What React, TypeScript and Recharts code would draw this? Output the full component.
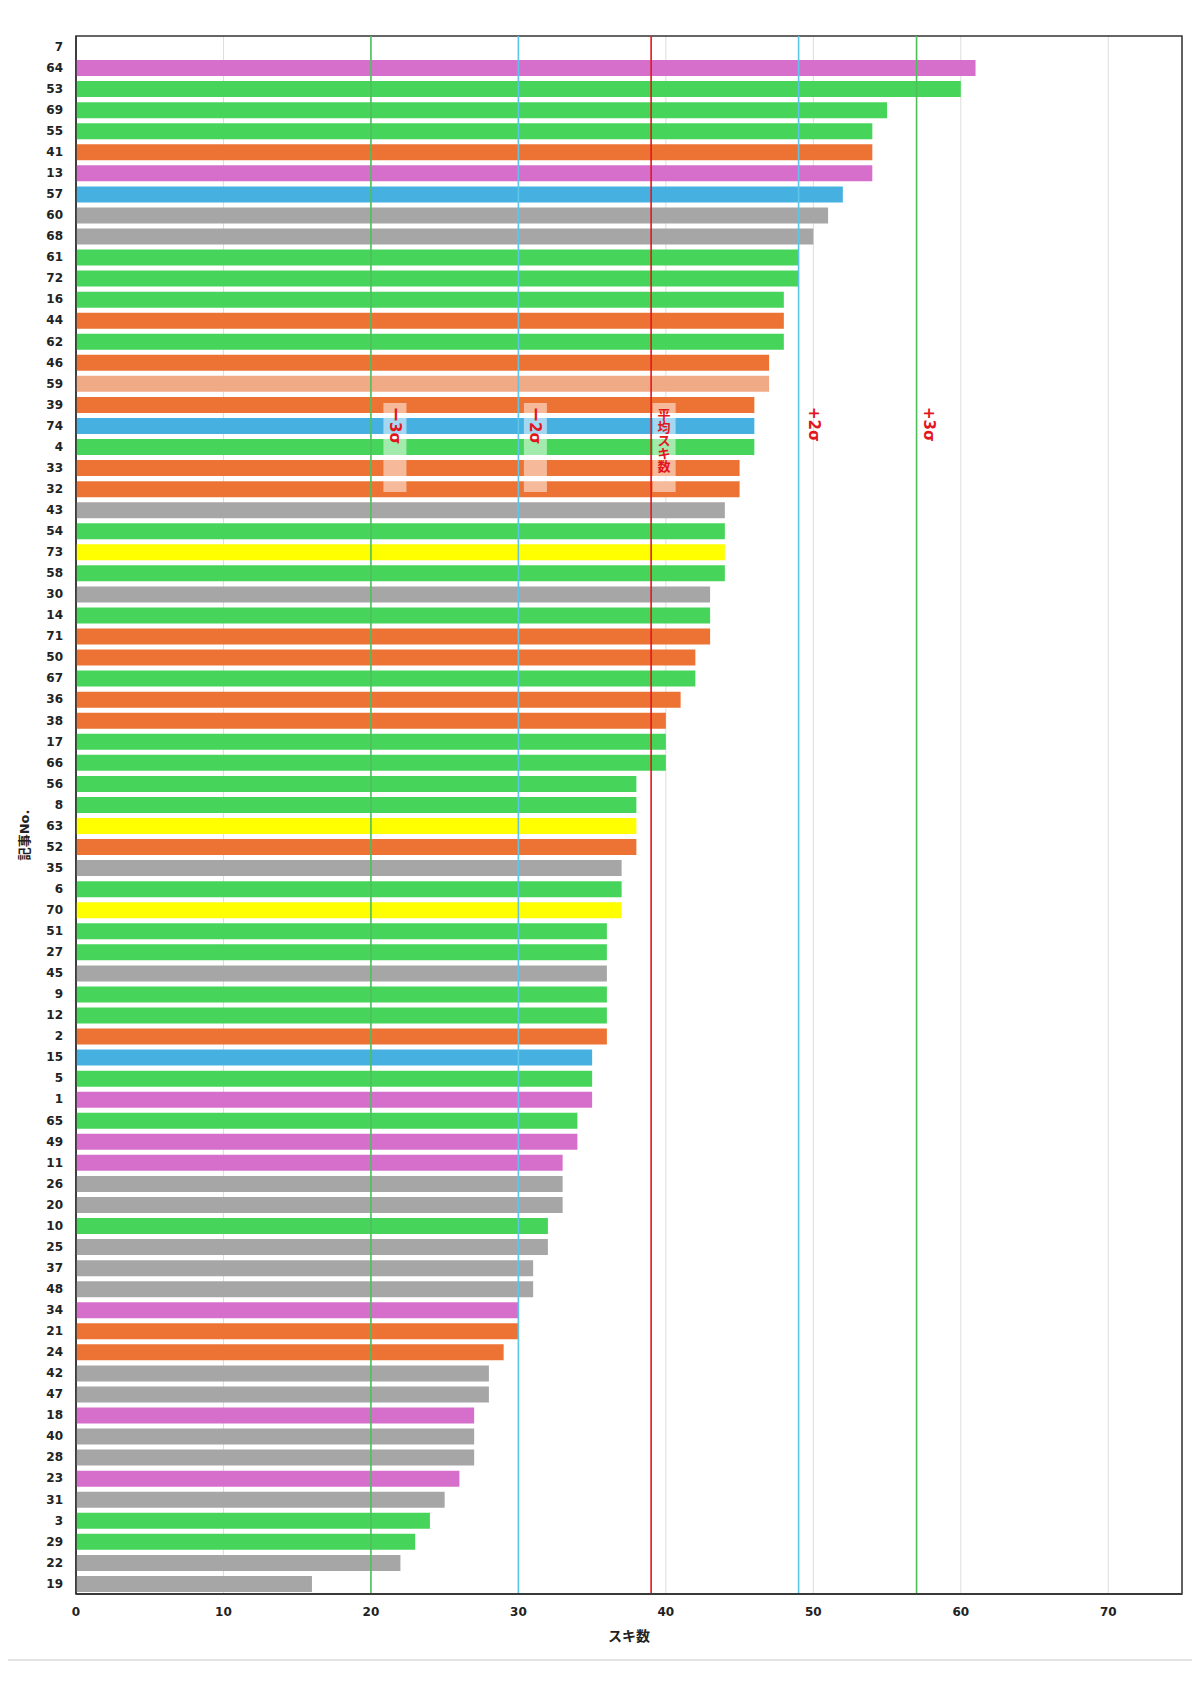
import { Bar, BarChart, CartesianGrid, Cell, ReferenceArea, ReferenceLine, XAxis, YAxis } from 'recharts';

const articleNos = [
  '7', '64', '53', '69', '55', '41', '13', '57', '60', '68',
  '61', '72', '16', '44', '62', '46', '59', '39', '74', '4',
  '33', '32', '43', '54', '73', '58', '30', '14', '71', '50',
  '67', '36', '38', '17', '66', '56', '8', '63', '52', '35',
  '6', '70', '51', '27', '45', '9', '12', '2', '15', '5',
  '1', '65', '49', '11', '26', '20', '10', '25', '37', '48',
  '34', '21', '24', '42', '47', '18', '40', '28', '23', '31',
  '3', '29', '22', '19',
];

const sukiCounts = [
  0, 61, 60, 55, 54, 54, 54, 52, 51, 50,
  49, 49, 48, 48, 48, 47, 47, 46, 46, 46,
  45, 45, 44, 44, 44, 44, 43, 43, 43, 42,
  42, 41, 40, 40, 40, 38, 38, 38, 38, 37,
  37, 37, 36, 36, 36, 36, 36, 36, 35, 35,
  35, 34, 34, 33, 33, 33, 32, 32, 31, 31,
  30, 30, 29, 28, 28, 27, 27, 27, 26, 25,
  24, 23, 22, 16,
];

const barGroups = [
  'gray', 'pink', 'green', 'green', 'green', 'orange', 'pink', 'blue', 'gray', 'gray',
  'green', 'green', 'green', 'orange', 'green', 'orange', 'salmon', 'orange', 'blue', 'green',
  'orange', 'orange', 'gray', 'green', 'yellow', 'green', 'gray', 'green', 'orange', 'orange',
  'green', 'orange', 'orange', 'green', 'green', 'green', 'green', 'yellow', 'orange', 'gray',
  'green', 'yellow', 'green', 'green', 'gray', 'green', 'green', 'orange', 'blue', 'green',
  'pink', 'green', 'pink', 'pink', 'gray', 'gray', 'green', 'gray', 'gray', 'gray',
  'pink', 'orange', 'orange', 'gray', 'gray', 'pink', 'gray', 'gray', 'pink', 'gray',
  'green', 'green', 'gray', 'gray',
];

const xTicks = [0, 10, 20, 30, 40, 50, 60, 70];
const xMax = 75;

// 平均・σ の基準線
const refValues = [20, 30, 39, 49, 57];
const refLabels = ['ー3σ', 'ー2σ', '平均スキ数', '+2σ', '+3σ'];

const groupColors: Record<string, string> = {
  pink: '#D66FCC',
  green: '#47D45A',
  orange: '#EC7334',
  blue: '#46B1E1',
  gray: '#A6A6A6',
  salmon: '#F1AA86',
  yellow: '#FFFF00',
};

const refStyles = [
  { stroke: '#4DC05C', dx: 24, box: true, vertical: false },
  { stroke: '#5EC4EA', dx: 17, box: true, vertical: false },
  { stroke: '#E3161D', dx: 13, box: true, vertical: true },
  { stroke: '#5EC4EA', dx: 15, box: false, vertical: false },
  { stroke: '#4DC05C', dx: 12, box: false, vertical: false },
];

const data = articleNos.map((no, i) => ({ no, suki: sukiCounts[i], group: barGroups[i] }));

const FONT = '"DejaVu Sans", "Noto Sans CJK JP", sans-serif';

function RefLabel(props: any) {
  const { viewBox, text, dx, box, vertical } = props;
  if (!viewBox) return null;
  const cx = viewBox.x + dx;
  const top = viewBox.y + 367;
  return (
    <g>
      {box && <rect x={cx - 11.5} y={top} width={23} height={89} fill="#fff" fillOpacity={0.5} />}
      {vertical ? (
        <text x={cx} y={top} fill="#E3161D" fontSize={13} fontWeight="bold" fontFamily={FONT} textAnchor="middle">
          {Array.from(text as string).map((ch, i) => (
            <tspan key={i} x={cx} y={top + 16 + i * 13}>
              {ch}
            </tspan>
          ))}
        </text>
      ) : (
        <text
          x={cx}
          y={top + 4}
          transform={`rotate(90 ${cx} ${top + 4})`}
          fill="#E3161D"
          fontSize={15}
          fontWeight="bold"
          fontFamily={FONT}
          dominantBaseline="central"
        >
          {text}
        </text>
      )}
    </g>
  );
}

function YTitle(props: any) {
  const { viewBox } = props;
  if (!viewBox) return null;
  const x = viewBox.x + 16;
  const y = viewBox.y + viewBox.height / 2 + 20;
  return (
    <text
      x={x}
      y={y}
      transform={`rotate(-90 ${x} ${y})`}
      textAnchor="middle"
      dominantBaseline="central"
      fontSize={13}
      fontWeight="bold"
      fontFamily={FONT}
      fill="#222"
    >
      記事No.
    </text>
  );
}

export default function App() {
  return (
    <div style={{ position: 'relative', width: 1184, height: 1660, fontFamily: FONT }}>
      <div style={{ position: 'absolute', left: -8, top: -8, width: 2, height: 613, background: '#8a8a8a' }} />
      <BarChart
        width={1184}
        height={1640}
        data={data}
        layout="vertical"
        margin={{ top: 28, right: 10, left: 0, bottom: 0 }}
        barSize={16}
      >
        <CartesianGrid horizontal={false} stroke="#DDDDDD" />
        <XAxis
          type="number"
          dataKey="suki"
          domain={[0, xMax]}
          ticks={xTicks}
          allowDataOverflow
          height={54}
          tickLine={false}
          tickMargin={7}
          axisLine={{ stroke: '#3a3a3a', strokeWidth: 2 }}
          tick={{ fontSize: 12, fontWeight: 'bold', fill: '#222', fontFamily: FONT }}
          label={{
            value: 'スキ数',
            position: 'insideBottom',
            offset: 7,
            fontSize: 14,
            fontWeight: 'bold',
            fill: '#222',
            fontFamily: FONT,
          }}
        />
        <YAxis
          type="category"
          dataKey="no"
          width={68}
          interval={0}
          tickLine={false}
          tickMargin={7}
          axisLine={{ stroke: '#333', strokeWidth: 1.5 }}
          tick={{ fontSize: 12, fontWeight: 'bold', fill: '#222', fontFamily: FONT }}
          label={<YTitle />}
        />
        {/* plot frame */}
        <ReferenceArea x1={0} x2={xMax} fill="none" stroke="#333" strokeWidth={1.5} />
        <Bar dataKey="suki" isAnimationActive={false}>
          {data.map((d) => (
            <Cell key={d.no} fill={groupColors[d.group]} />
          ))}
        </Bar>
        {refValues.map((v, i) => (
          <ReferenceLine
            key={refLabels[i]}
            x={v}
            stroke={refStyles[i].stroke}
            strokeWidth={1.6}
            label={
              <RefLabel
                text={refLabels[i]}
                dx={refStyles[i].dx}
                box={refStyles[i].box}
                vertical={refStyles[i].vertical}
              />
            }
          />
        ))}
      </BarChart>
      <div style={{ position: 'absolute', left: -8, width: 1200, top: 1651, height: 2, background: '#e3e3e3' }} />
    </div>
  );
}
